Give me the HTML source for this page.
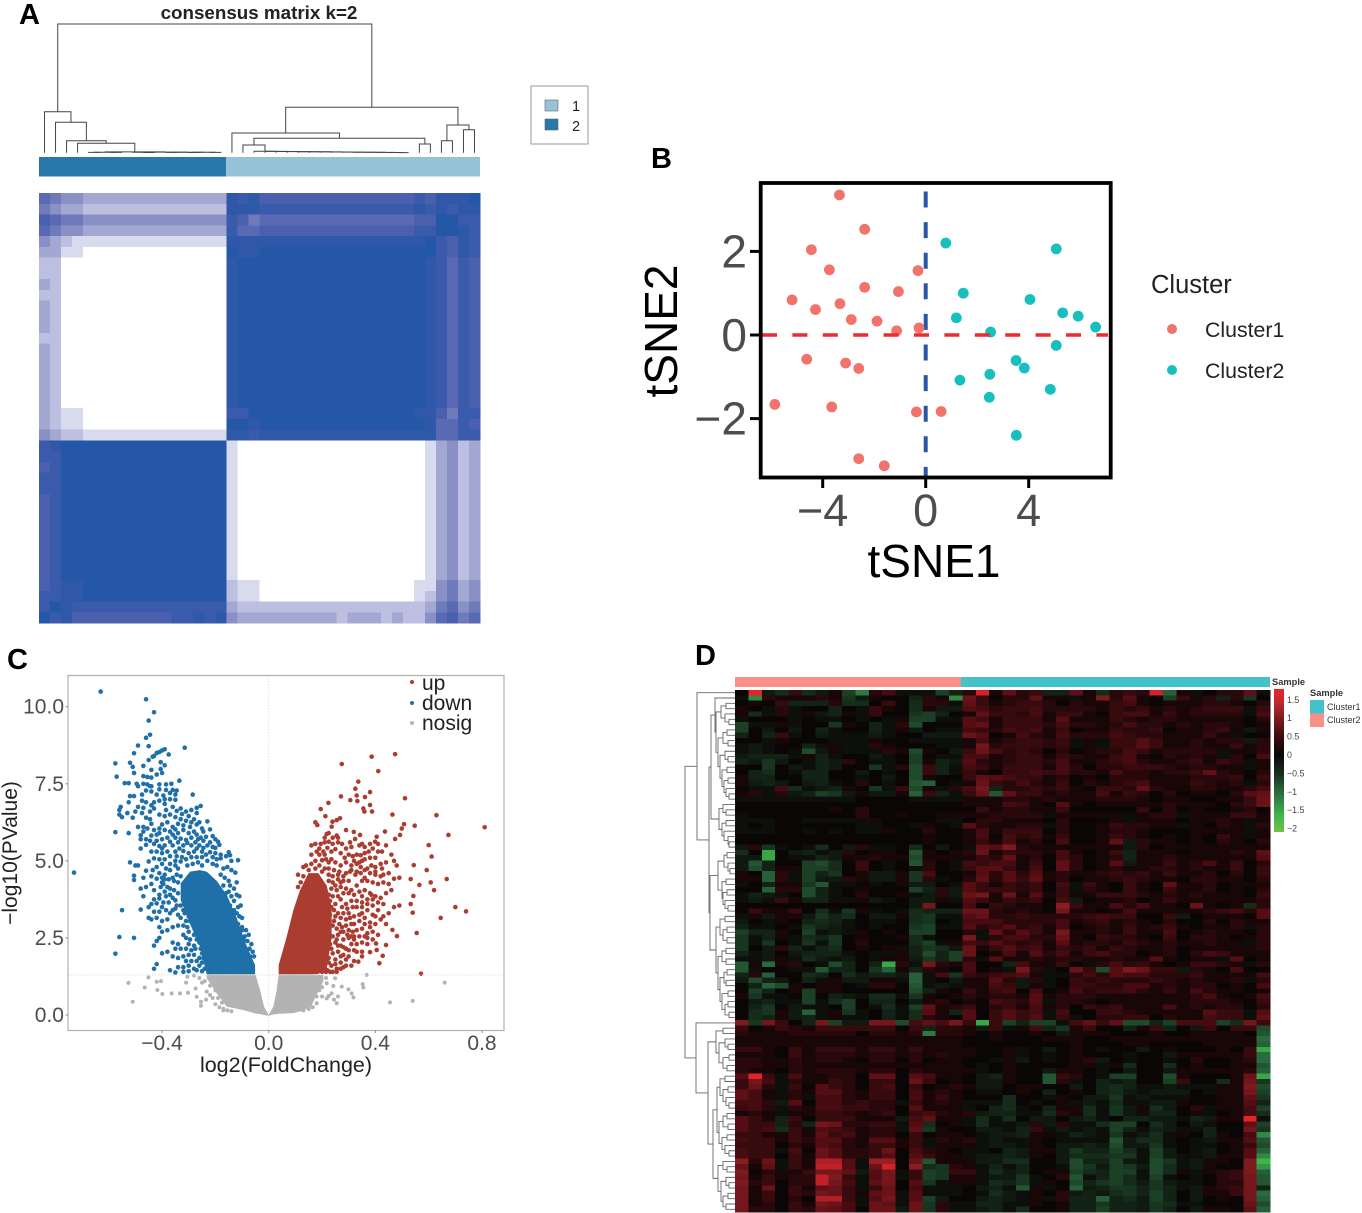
<!DOCTYPE html>
<html><head><meta charset="utf-8"><title>Cluster figure</title>
<style>
html,body{margin:0;padding:0;background:#fff;width:1362px;height:1213px;overflow:hidden}
svg{display:block;font-family:"Liberation Sans",sans-serif}
</style></head>
<body>
<svg id="fig" xmlns="http://www.w3.org/2000/svg" width="1362" height="1213" viewBox="0 0 1362 1213">
<text x="19" y="24" font-size="29" font-weight="bold">A</text>
<text x="651" y="168" font-size="29" font-weight="bold">B</text>
<text x="7" y="669" font-size="29" font-weight="bold">C</text>
<text x="695" y="665" font-size="29" font-weight="bold">D</text>
<text x="259" y="19" font-size="18.8" font-weight="bold" text-anchor="middle" fill="#222">consensus matrix k=2</text>
<g id="a-dend" fill="none" stroke="#444" stroke-width="1"></g>
<rect x="39" y="157" width="187" height="19.5" fill="#2878aa"/>
<rect x="226" y="157" width="254" height="19.5" fill="#97c3d8"/>
<g id="a-matrix" shape-rendering="crispEdges"></g>
<g>
<rect x="531" y="86" width="57" height="58" fill="#fff" stroke="#999" stroke-width="1"/>
<rect x="545" y="100" width="13" height="11" fill="#97c3d8" stroke="#666" stroke-width=".6"/>
<rect x="545" y="119" width="13" height="11" fill="#2878aa" stroke="#666" stroke-width=".6"/>
<text x="572" y="111" font-size="14.5" fill="#222">1</text>
<text x="572" y="131" font-size="14.5" fill="#222">2</text>
</g>
<g id="b-plot"></g>
<g id="c-plot"></g>
<g id="d-dend" fill="none" stroke="#666" stroke-width=".9"></g>
<rect x="735" y="677" width="226" height="10" fill="#f8908a"/>
<rect x="961" y="677" width="309" height="10" fill="#45c2c9"/>
<text x="1272" y="685" font-size="9.3" font-weight="bold" fill="#333">Sample</text>
<g id="d-heat" shape-rendering="crispEdges"></g>
<defs><linearGradient id="hg" x1="0" y1="0" x2="0" y2="1">
<stop offset="0" stop-color="#ee2229"/><stop offset=".09" stop-color="#c22a30"/><stop offset=".2" stop-color="#7f1d22"/><stop offset=".33" stop-color="#3e0c10"/><stop offset=".46" stop-color="#0a0606"/><stop offset=".6" stop-color="#18351f"/><stop offset=".72" stop-color="#2a6a3f"/><stop offset=".88" stop-color="#3db54a"/><stop offset="1" stop-color="#74c04a"/></linearGradient></defs>
<rect x="1274" y="689" width="10" height="143" fill="url(#hg)"/>
<g id="d-ticks" font-size="8.8" fill="#444"></g>
<text x="1310" y="696" font-size="9.3" font-weight="bold" fill="#333">Sample</text>
<rect x="1310" y="700" width="14" height="13.5" fill="#45c2c9"/>
<rect x="1310" y="713.5" width="14" height="13.5" fill="#f8908a"/>
<text x="1327" y="710" font-size="9" fill="#333">Cluster1</text>
<text x="1327" y="723" font-size="9" fill="#333">Cluster2</text>
</svg>
<script>
const NS='http://www.w3.org/2000/svg';
function mk(parent,tag,attrs,txt){const e=document.createElementNS(NS,tag);for(const k in attrs)e.setAttribute(k,attrs[k]);if(txt!==undefined)e.textContent=txt;parent.appendChild(e);return e;}

/* ---------- Panel A data ---------- */
const consensusRows=[
[6,5,4,4,3,3,3,3,3,3,3,3,3,3,3,3,3,9,8,9,7,7,7,7,7,7,7,7,7,7,7,7,7,7,8,7,9,9,9,10],
[5,4,3,3,2,2,2,2,2,2,2,2,2,2,2,2,2,9,9,9,8,8,8,8,8,8,8,8,8,8,8,8,8,8,9,8,9,8,9,9],
[7,6,5,5,4,4,4,4,4,4,4,4,4,4,4,4,4,8,7,5,6,6,6,6,6,6,6,6,6,6,6,6,6,6,7,7,10,10,8,8],
[6,5,4,4,3,3,3,3,3,3,3,3,3,3,3,3,3,8,6,6,7,7,7,7,7,7,7,7,7,7,7,7,7,7,8,8,10,10,9,8],
[4,3,2,1,1,1,1,1,1,1,1,1,1,1,1,1,1,9,9,9,9,9,9,9,9,9,9,9,9,9,9,9,9,9,9,10,8,7,9,8],
[3,3,1,1,0,0,0,0,0,0,0,0,0,0,0,0,0,10,9,9,10,10,10,10,10,10,10,10,10,10,10,10,10,10,10,10,8,7,9,8],
[2,2,0,0,0,0,0,0,0,0,0,0,0,0,0,0,0,9,10,10,10,10,10,10,10,10,10,10,10,10,10,10,10,10,10,9,8,6,8,7],
[2,2,0,0,0,0,0,0,0,0,0,0,0,0,0,0,0,9,10,10,10,10,10,10,10,10,10,10,10,10,10,10,10,10,10,9,8,6,8,7],
[3,2,0,0,0,0,0,0,0,0,0,0,0,0,0,0,0,9,10,10,10,10,10,10,10,10,10,10,10,10,10,10,10,10,10,9,8,6,8,7],
[2,2,0,0,0,0,0,0,0,0,0,0,0,0,0,0,0,9,10,10,10,10,10,10,10,10,10,10,10,10,10,10,10,10,10,9,8,6,8,7],
[3,2,0,0,0,0,0,0,0,0,0,0,0,0,0,0,0,9,10,10,10,10,10,10,10,10,10,10,10,10,10,10,10,10,10,9,8,6,8,7],
[3,2,0,0,0,0,0,0,0,0,0,0,0,0,0,0,0,9,10,10,10,10,10,10,10,10,10,10,10,10,10,10,10,10,10,9,8,6,8,7],
[3,2,0,0,0,0,0,0,0,0,0,0,0,0,0,0,0,9,10,10,10,10,10,10,10,10,10,10,10,10,10,10,10,10,10,9,8,6,8,7],
[2,2,0,0,0,0,0,0,0,0,0,0,0,0,0,0,0,9,10,10,10,10,10,10,10,10,10,10,10,10,10,10,10,10,10,9,8,6,8,7],
[3,2,0,0,0,0,0,0,0,0,0,0,0,0,0,0,0,9,10,10,10,10,10,10,10,10,10,10,10,10,10,10,10,10,10,9,8,6,8,7],
[3,2,0,0,0,0,0,0,0,0,0,0,0,0,0,0,0,9,10,10,10,10,10,10,10,10,10,10,10,10,10,10,10,10,10,9,8,6,8,7],
[3,2,0,0,0,0,0,0,0,0,0,0,0,0,0,0,0,9,10,10,10,10,10,10,10,10,10,10,10,10,10,10,10,10,10,9,8,6,8,7],
[3,2,0,0,0,0,0,0,0,0,0,0,0,0,0,0,0,9,10,10,10,10,10,10,10,10,10,10,10,10,10,10,10,10,10,9,8,6,8,7],
[3,2,0,0,0,0,0,0,0,0,0,0,0,0,0,0,0,9,10,10,10,10,10,10,10,10,10,10,10,10,10,10,10,10,10,9,8,6,8,7],
[3,2,0,0,0,0,0,0,0,0,0,0,0,0,0,0,0,9,10,10,10,10,10,10,10,10,10,10,10,10,10,10,10,10,10,9,8,6,8,7],
[3,2,1,1,0,0,0,0,0,0,0,0,0,0,0,0,0,8,8,10,10,10,10,10,10,10,10,10,10,10,10,10,10,10,9,9,7,5,8,8],
[3,2,1,1,0,0,0,0,0,0,0,0,0,0,0,0,0,10,10,9,10,10,10,10,10,10,10,10,10,10,10,10,10,10,10,9,6,6,8,7],
[4,3,2,2,1,1,1,1,1,1,1,1,1,1,1,1,1,9,9,8,9,9,9,9,9,9,9,9,9,9,9,9,9,9,9,9,6,6,8,8],
[8,9,10,10,10,10,10,10,10,10,10,10,10,10,10,10,10,1,0,0,0,0,0,0,0,0,0,0,0,0,0,0,0,0,0,1,3,4,2,3],
[8,8,10,10,10,10,10,10,10,10,10,10,10,10,10,10,10,1,0,0,0,0,0,0,0,0,0,0,0,0,0,0,0,0,0,1,3,4,2,3],
[7,8,10,10,10,10,10,10,10,10,10,10,10,10,10,10,10,1,0,0,0,0,0,0,0,0,0,0,0,0,0,0,0,0,0,1,3,4,2,3],
[8,8,10,10,10,10,10,10,10,10,10,10,10,10,10,10,10,1,0,0,0,0,0,0,0,0,0,0,0,0,0,0,0,0,0,1,3,4,2,3],
[8,8,10,10,10,10,10,10,10,10,10,10,10,10,10,10,10,1,0,0,0,0,0,0,0,0,0,0,0,0,0,0,0,0,0,1,3,4,2,3],
[7,8,10,10,10,10,10,10,10,10,10,10,10,10,10,10,10,1,0,0,0,0,0,0,0,0,0,0,0,0,0,0,0,0,0,1,3,4,2,3],
[7,8,10,10,10,10,10,10,10,10,10,10,10,10,10,10,10,1,0,0,0,0,0,0,0,0,0,0,0,0,0,0,0,0,0,1,3,4,2,3],
[7,8,10,10,10,10,10,10,10,10,10,10,10,10,10,10,10,1,0,0,0,0,0,0,0,0,0,0,0,0,0,0,0,0,0,1,3,4,2,3],
[7,8,10,10,10,10,10,10,10,10,10,10,10,10,10,10,10,1,0,0,0,0,0,0,0,0,0,0,0,0,0,0,0,0,0,1,3,4,2,3],
[7,8,10,10,10,10,10,10,10,10,10,10,10,10,10,10,10,1,0,0,0,0,0,0,0,0,0,0,0,0,0,0,0,0,0,1,3,4,2,3],
[7,8,10,10,10,10,10,10,10,10,10,10,10,10,10,10,10,1,0,0,0,0,0,0,0,0,0,0,0,0,0,0,0,0,0,1,3,4,2,3],
[7,8,10,10,10,10,10,10,10,10,10,10,10,10,10,10,10,1,0,0,0,0,0,0,0,0,0,0,0,0,0,0,0,0,0,1,3,4,2,3],
[7,8,10,10,10,10,10,10,10,10,10,10,10,10,10,10,10,1,0,0,0,0,0,0,0,0,0,0,0,0,0,0,0,0,0,1,3,4,2,3],
[7,8,9,9,10,10,10,10,10,10,10,10,10,10,10,10,10,2,1,1,0,0,0,0,0,0,0,0,0,0,0,0,0,0,1,1,4,5,3,4],
[8,8,9,9,10,10,10,10,10,10,10,10,10,10,10,10,10,2,1,1,0,0,0,0,0,0,0,0,0,0,0,0,0,0,1,2,4,5,3,4],
[8,10,9,8,8,8,8,8,8,8,8,8,8,8,8,8,8,3,2,2,2,2,2,2,2,2,2,2,2,2,2,2,2,2,2,3,5,6,4,5],
[10,8,9,7,7,7,7,7,7,7,7,7,8,8,9,8,9,4,3,3,3,3,3,3,3,3,3,2,3,3,3,2,3,2,2,4,6,7,5,6]
];
const consensusPalette=['#ffffff','#d8daed','#bcbfe0','#a3a8d3','#8a90c6','#6e7ab9','#5a69b3','#4a60ae','#3a5aab','#2f58a9','#2557a9'];
const consensusTree=[128.7,
 [41,0,[30.4,0,[12,0,[9.4,0,[0.8,[0.5,[0.3,0,0],[0.3,0,0]],[0.6,[0.4,0,[0.2,0,0]],[0.5,[0.3,0,0],[0.4,[0.2,0,0],[0.3,0,0]]]]]]]]],
 [45.4,[19.7,0,[14.4,[7.7,0,[1.4,0,[1.3,0,[1.2,0,[1.1,0,[1,0,[.9,0,[.8,0,[.7,0,[.6,0,[.5,0,[.4,0,[.3,0,[.2,0,[.1,0,0]]]]]]]]]]]]]]],[8.7,0,0]]],[27.7,[12,0,0],[23,0,0]]]
];

/* ---------- Panel B data ---------- */
const cluster1X=[-3.35,-2.37,-4.44,-3.74,-0.30,-2.37,-1.06,-5.19,-4.28,-3.33,-2.89,-1.89,-1.13,-0.26,-4.62,-3.11,-2.60,-5.86,-3.65,-0.36,0.60,-2.60,-1.61];
const cluster1Y=[3.35,2.53,2.04,1.56,1.54,1.14,1.04,0.84,0.61,0.75,0.37,0.33,0.10,0.17,-0.58,-0.67,-0.80,-1.66,-1.72,-1.84,-1.83,-2.96,-3.13];
const cluster2X=[0.78,5.07,1.46,4.05,5.32,5.92,6.60,1.19,2.52,5.07,3.51,3.83,1.33,2.49,2.47,4.84,3.52];
const cluster2Y=[2.20,2.06,1.00,0.85,0.53,0.45,0.19,0.41,0.07,-0.25,-0.61,-0.79,-1.08,-0.94,-1.49,-1.30,-2.40];
const tsneXTicks=[-4,0,4];
const tsneYTicks=[2,0,-2];

/* ---------- Panel C data ---------- */
const volcanoXTicks=[-0.4,0,0.4,0.8];
const volcanoYTicks=[0,2.5,5,7.5,10];
const downCoreX=[-0.33,-0.295,-0.258,-0.2325,-0.195,-0.1575,-0.12,-0.089,-0.051];
const downCoreTop=[4.27,4.65,4.7,4.65,4.35,3.9,3.15,2.38,1.62];
const downCoreBottom=[3.73,2.95,2.22,1.33,1.33,1.33,1.33,1.33,1.33];
const upCoreX=[0.0375,0.0675,0.0925,0.1175,0.149,0.186,0.2175,0.236];
const upCoreTop=[1.62,2.54,3.4,4.05,4.6,4.6,4.2,3.5];
const upCoreBottom=[1.33,1.33,1.33,1.33,1.33,1.33,1.5,2.5];
const nosigLeftX=[-0.2325,-0.195,-0.1575,-0.095,-0.05,-0.0325,-0.0175,0];
const nosigLeftTop=[1.33,1.33,1.33,1.33,1.33,0.81,0.27,0];
const nosigLeftBottom=[1.19,0.70,0.27,0.16,0.05,0.03,0,-0.03];
const nosigRightX=[0,0.0175,0.03,0.0375,0.0925,0.13,0.16,0.205];
const nosigRightTop=[0,0.27,0.81,1.33,1.33,1.33,1.33,1.3];
const nosigRightBottom=[-0.03,0.02,0.03,0.04,0.06,0.14,0.3,1.1];
const downPoints=[[-0.63,10.49],[-0.46,10.24],[-0.43,9.82],[-0.45,9.55],[-0.46,8.99],[-0.445,9.09],[-0.49,8.74],[-0.45,8.72],[-0.315,8.67],[-0.39,8.62],[-0.4,8.58],[-0.41,8.53],[-0.42,8.5],[-0.43,8.4],[-0.505,8.49],[-0.375,8.45],[-0.575,8.16],[-0.52,8.18],[-0.51,8.05],[-0.47,8.08],[-0.45,8.27],[-0.435,8.38],[-0.405,8.2],[-0.39,8.1],[-0.405,7.98],[-0.44,7.95],[-0.4,7.85],[-0.42,7.8],[-0.505,7.85],[-0.57,7.73],[-0.47,7.75],[-0.455,7.72],[-0.44,7.7],
[-0.54,7.52],[-0.525,7.52],[-0.495,7.5],[-0.49,7.42],[-0.47,7.5],[-0.455,7.48],[-0.44,7.42],[-0.41,7.48],[-0.385,7.48],[-0.365,7.5],[-0.335,7.6],[-0.36,7.3],[-0.345,7.28],[-0.46,7.28],[-0.44,7.25],[-0.445,7.42],[-0.41,7.32],[-0.37,7.2],[-0.285,7.15],[-0.52,7.1],[-0.505,7.1],[-0.35,7.15],[-0.39,7],[-0.37,7],[-0.35,6.98],[-0.525,6.9],[-0.475,6.95],[-0.46,6.9],[-0.43,6.9],[-0.41,6.95],[-0.39,6.85],[-0.255,6.78],[-0.27,6.72],[-0.53,6.55],[-0.555,6.75],[-0.49,6.75],[-0.44,6.8],[-0.43,6.7],[-0.47,6.72],[-0.33,6.7],[-0.31,6.6],[-0.29,6.65],[-0.27,6.55],[-0.56,6.65],[-0.56,6.5],[-0.55,6.42],[-0.51,6.4],[-0.475,6.55],[-0.46,6.4],[-0.445,6.35],[-0.41,6.5],[-0.39,6.45],[-0.37,6.5],[-0.35,6.42],[-0.33,6.35],[-0.31,6.3],[-0.28,6.35],[-0.26,6.25],
[-0.23,6.28],[-0.27,6.18],[-0.295,6.1],[-0.34,6.2],[-0.38,6.25],[-0.4,6.18],[-0.41,6.05],[-0.44,6.2],[-0.43,6.0],[-0.39,6],[-0.37,5.95],[-0.35,6.02],[-0.32,6.0],[-0.3,5.9],[-0.28,5.95],[-0.245,5.95],[-0.22,6.02],[-0.575,5.93],[-0.525,5.9],[-0.48,5.83],[-0.48,5.7],[-0.44,5.82],[-0.42,5.85],[-0.4,5.7],[-0.38,5.75],[-0.35,5.75],[-0.33,5.72],[-0.31,5.68],[-0.29,5.75],[-0.265,5.7],[-0.245,5.65],[-0.22,5.6],[-0.19,5.62],[-0.185,5.52],[-0.2,5.42],[-0.23,5.5],[-0.26,5.5],[-0.29,5.5],[-0.32,5.5],[-0.36,5.5],[-0.39,5.5],[-0.41,5.48],[-0.43,5.55],[-0.46,5.52],[-0.48,5.4],[-0.44,5.3],[-0.42,5.3],[-0.4,5.25],[-0.38,5.3],[-0.35,5.3],[-0.32,5.32],[-0.3,5.25],[-0.28,5.3],[-0.25,5.3],[-0.22,5.28],[-0.2,5.25],[-0.18,5.2],[-0.15,5.28],[-0.145,5.18],[-0.16,5.15],[-0.14,5.0],[-0.18,5.08],[-0.52,4.95],[-0.5,4.85],[-0.49,4.85],[-0.43,5.08],[-0.45,4.98],[-0.41,5.05],[-0.39,5.05],[-0.37,4.9],[-0.35,5.0],[-0.33,4.98],[-0.31,5.05],[-0.115,5.02],[-0.14,4.7],[-0.125,4.62],[-0.73,4.62],[-0.505,4.52],[-0.505,4.38],[-0.47,4.45],[-0.44,4.5],[-0.41,4.6],[-0.39,4.55],[-0.37,4.7],[-0.36,4.45],[-0.44,4.25],[-0.46,4.15],[-0.48,4.1],[-0.4,4.3],[-0.38,4.15],[-0.39,4.0],[-0.47,3.85],[-0.41,3.9],[-0.43,3.75],[-0.42,3.62],[-0.44,3.6],[-0.45,3.5],[-0.37,3.9],[-0.35,3.72],[-0.12,4.3],[-0.13,4.1],[-0.15,4.0],[-0.12,3.9],[-0.11,3.85],[-0.13,3.7],[-0.115,3.5],[-0.12,3.3],[-0.11,3.2],[-0.13,3.05],[-0.1,3.15],[-0.55,3.4],[-0.48,3.42],[-0.45,3.15],[-0.44,3.1],[-0.42,3.15],[-0.4,3.05],[-0.38,3.1],[-0.37,3.3],[-0.36,3.4],[-0.34,3.25],[-0.31,3.05],[-0.3,3.2],[-0.32,2.9],[-0.41,2.85],[-0.4,2.7],[-0.38,2.75],[-0.36,2.85],[-0.34,2.9],[-0.32,2.6],[-0.3,2.7],[-0.28,2.6],[-0.56,2.53],[-0.505,2.5],[-0.42,2.4],[-0.43,2.25],[-0.41,2.5],[-0.36,2.35],[-0.34,2.3],[-0.3,2.3],[-0.28,2.25],[-0.26,2.35],[-0.085,2.75],[-0.075,2.6],[-0.09,2.55],[-0.1,2.75],[-0.08,2.4],[-0.065,2.3],[-0.575,1.99],[-0.4,2.0],[-0.38,2.05],[-0.36,1.9],[-0.34,1.85],[-0.32,1.9],[-0.3,1.95],[-0.28,1.95],[-0.26,1.85],[-0.25,2.0],[-0.42,1.65],[-0.43,1.5],[-0.37,1.45],[-0.34,1.55],[-0.32,1.55],[-0.3,1.6],[-0.28,1.5],[-0.26,1.6],[-0.24,1.5],[-0.35,1.38],[-0.32,1.4],
[-0.305,4.85],[-0.285,4.9],[-0.265,4.95],[-0.25,4.85],[-0.23,5.0],[-0.21,4.9],[-0.195,4.85],[-0.17,4.75],[-0.155,4.8],[-0.18,4.55],[-0.165,4.45],[-0.15,4.35],[-0.17,4.2],[-0.145,4.2],[-0.16,3.95],[-0.14,3.85],[-0.145,3.55],[-0.13,3.4],[-0.105,3.55],[-0.115,2.95],[-0.1,2.85],[-0.11,2.65],[-0.095,2.45],[-0.072,2.15],[-0.06,2.05],[-0.055,1.9],[-0.07,1.9],
[-0.34,4.75],[-0.345,4.55],[-0.33,4.5],[-0.355,4.35],[-0.34,4.3],[-0.375,4.4],[-0.39,4.4],[-0.405,4.15],[-0.37,4.1],[-0.355,4.05],[-0.34,3.95],[-0.385,3.85],[-0.36,3.8],[-0.395,3.65],[-0.375,3.65],[-0.345,3.55],[-0.4,3.5],[-0.385,3.4],[-0.35,3.45],[-0.33,3.55],[-0.32,3.4],[-0.33,3.15],[-0.305,3.45],[-0.315,3.3],[-0.295,3.05],[-0.305,2.85],[-0.285,2.95],[-0.27,2.85],[-0.295,2.45],[-0.31,2.5],[-0.27,2.45],[-0.255,2.6],[-0.245,2.4],[-0.275,2.15],[-0.255,2.15],[-0.24,2.2],[-0.29,2.1],[-0.31,2.15],[-0.33,2.15],[-0.35,2.15],[-0.245,1.85],[-0.235,1.7],[-0.25,1.7],[-0.27,1.75],[-0.29,1.75],[-0.31,1.75],[-0.225,1.55],[-0.27,1.45],[-0.25,1.42],[-0.225,1.4],[-0.3,1.42],
[-0.49,6.1],[-0.47,6.1],[-0.455,6.05],[-0.47,5.95],[-0.41,5.9],[-0.36,5.85],[-0.34,5.9],[-0.27,5.85],[-0.255,5.75],[-0.235,5.78],[-0.21,5.8],[-0.2,5.7],[-0.46,5.7],[-0.445,5.65],[-0.42,5.65],[-0.37,5.62],[-0.34,5.6],[-0.305,5.58],[-0.275,5.6],[-0.21,5.45],[-0.245,5.42],[-0.27,5.4],[-0.335,5.4],[-0.4,5.4],[-0.37,5.15],[-0.345,5.15],[-0.325,5.12],[-0.29,5.12],[-0.27,5.12],[-0.25,5.12],[-0.235,5.2],[-0.21,5.12],[-0.195,5.05],[-0.4,4.9],[-0.385,4.75],[-0.42,4.8],[-0.35,4.85],[-0.435,4.7],[-0.46,4.68],[-0.4,4.45],[-0.42,4.42],[-0.43,4.05],[-0.41,3.78],[-0.395,4.25],[-0.41,3.35],[-0.43,3.35],
[-0.475,7.15],[-0.42,7.15],[-0.395,7.12],[-0.385,7.3],[-0.5,6.6],[-0.445,6.6],[-0.385,6.65],[-0.36,6.75],[-0.345,6.62],[-0.325,6.52],[-0.3,6.45],[-0.29,6.25],[-0.32,6.15],[-0.36,6.1],[-0.25,6.05]];
const upPoints=[[0.474,8.46],[0.386,8.38],[0.274,8.14],[0.411,7.91],[0.336,7.57],[0.325,7.34],[0.38,7.23],[0.33,7.12],[0.271,7.09],[0.306,6.97],[0.3325,6.94],[0.361,7.07],[0.511,7.03],[0.224,6.88],[0.195,6.68],[0.38,6.81],[0.355,6.7],[0.359,6.6],[0.3875,6.6],[0.2125,6.45],[0.464,6.5],[0.629,6.48],[0.2675,6.38],[0.255,6.32],[0.239,6.27],[0.175,6.25],[0.1825,6.16],[0.236,6.11],[0.5475,6.14],[0.81,6.09],[0.5075,6.19],[0.499,6.05],[0.436,5.95],[0.319,5.94],[0.674,5.84],[0.3425,5.84],[0.2175,5.87],[0.4925,5.84],[0.474,5.71],[0.405,5.78],[0.324,5.71],[0.399,5.62],[0.255,5.82],[0.6,5.51],[0.611,5.14],[0.5925,4.7],[0.544,4.86],[0.6675,4.41],[0.5325,4.41],[0.565,4.22],[0.6075,4.3],[0.62,4.05],[0.5425,3.86],[0.5325,3.6],[0.7,3.5],[0.74,3.36],[0.54,3.32],[0.645,3.15],[0.555,2.66],[0.464,2.76],[0.481,2.56],[0.415,1.68],[0.4275,1.92],[0.44,2.27],[0.4025,2.32],[0.38,2.04],[0.405,2.11],[0.336,1.73],[0.571,1.34],
[0.195,5.55],[0.21,5.6],[0.225,5.62],[0.24,5.55],[0.26,5.6],[0.275,5.55],[0.19,5.4],[0.205,5.3],[0.22,5.42],[0.235,5.3],[0.25,5.38],[0.27,5.25],[0.285,5.1],[0.3,5.2],[0.315,5.15],[0.33,5.2],[0.345,5.18],[0.36,5.25],[0.375,5.3],[0.39,5.4],[0.41,5.3],[0.425,5.3],[0.46,5.2],[0.47,5.0],[0.48,4.85],[0.44,4.95],[0.42,4.9],[0.4,4.8],[0.385,4.85],[0.37,4.75],[0.35,5.0],[0.33,4.9],[0.31,4.85],[0.29,4.95],[0.27,4.85],[0.25,4.95],[0.235,5.05],[0.215,5.05],[0.2,5.02],[0.175,5.0],[0.14,4.85],[0.16,4.9],[0.19,4.85],[0.225,4.75],[0.245,4.7],[0.265,4.65],[0.29,4.6],[0.305,4.65],[0.325,4.55],[0.345,4.6],[0.36,4.45],[0.4,4.55],[0.42,4.5],[0.45,4.6],[0.47,4.42],[0.49,4.45],[0.41,4.25],[0.43,4.3],[0.3,4.35],[0.28,4.35],[0.26,4.4],[0.25,4.2],[0.27,4.15],[0.29,4.1],[0.31,4.05],[0.33,4.2],[0.35,3.85],[0.37,3.75],[0.385,3.9],[0.4,3.85],[0.41,3.65],[0.42,3.8],[0.44,3.95],[0.46,4.05],[0.49,3.55],[0.47,3.5],[0.45,3.3],[0.43,3.6],[0.39,3.55],[0.37,3.4],[0.35,3.5],[0.33,3.5],[0.31,3.7],[0.29,3.6],[0.27,3.75],[0.25,3.6],[0.245,3.4],[0.26,3.3],[0.28,3.3],[0.3,3.3],[0.32,3.2],[0.34,3.25],[0.36,3.15],[0.38,3.0],[0.4,3.2],[0.42,3.1],[0.43,3.2],[0.44,2.95],[0.245,3.05],[0.265,2.95],[0.29,2.9],[0.31,2.95],[0.33,2.75],[0.35,2.8],[0.37,2.65],[0.39,2.7],[0.41,2.6],[0.36,2.55],[0.34,2.55],[0.32,2.45],[0.3,2.5],[0.28,2.7],[0.26,2.6],[0.24,2.55],[0.22,2.7],[0.23,2.3],[0.25,2.35],[0.27,2.25],[0.29,2.15],[0.31,2.3],[0.33,2.05],[0.35,2.05],[0.37,2.3],[0.26,2.05],[0.28,1.95],[0.3,1.9],[0.32,1.75],[0.25,1.8],[0.27,1.7],[0.29,1.6],[0.235,1.6],[0.255,1.5],[0.21,1.6],[0.22,1.45],[0.2,1.4],[0.24,1.4],[0.27,1.5],[0.225,1.85],[0.21,2.2],
[0.21,5.2],[0.19,5.2],[0.175,4.75],[0.15,4.7],[0.13,4.5],[0.12,4.3],[0.11,4.15],[0.21,4.75],[0.225,4.95],[0.2,4.65],[0.24,4.5],[0.225,4.55],[0.26,4.55],[0.28,4.5],[0.27,4.3],[0.24,4.3],[0.225,4.35],[0.235,4.1],[0.255,4.05],[0.28,3.95],[0.3,3.95],[0.32,3.9],[0.33,3.7],[0.315,3.5],[0.295,3.45],[0.275,3.5],[0.26,3.85],[0.24,3.85],[0.225,3.9],[0.23,3.7],[0.235,3.5],[0.23,3.25],[0.25,3.2],[0.27,3.15],[0.29,3.1],[0.305,3.15],[0.24,2.9],[0.255,2.8],[0.27,2.7],[0.275,2.85],[0.3,2.75],[0.315,2.7],[0.295,2.6],[0.255,2.45],[0.28,2.45],[0.31,2.55],[0.225,2.45],[0.235,2.15],[0.26,2.25],[0.28,2.2],[0.3,2.1],[0.32,2.1],[0.24,2.0],[0.27,1.9],[0.29,1.8],[0.31,1.6],[0.25,1.65],[0.225,1.7],[0.21,1.85],[0.195,1.65],[0.28,1.55],[0.255,1.4],[0.23,1.4],[0.215,1.4],
[0.32,5.0],[0.34,4.95],[0.36,5.05],[0.38,5.1],[0.4,5.1],[0.31,4.7],[0.33,4.65],[0.345,4.8],[0.36,4.7],[0.38,4.6],[0.4,4.65],[0.425,4.75],[0.35,4.35],[0.37,4.35],[0.39,4.3],[0.43,4.55],[0.45,4.25],[0.34,4.0],[0.36,4.05],[0.38,3.95],[0.35,3.65],[0.37,3.6],[0.39,3.75],[0.41,3.4],[0.39,3.25],[0.35,3.3],[0.34,3.05],[0.36,2.95],[0.38,2.85],[0.4,2.95],[0.32,2.95],[0.35,2.35],[0.33,2.3],[0.37,2.5],[0.39,2.45],[0.35,1.9],[0.32,2.55],
[0.11,4.55],[0.13,4.8],[0.16,5.2],[0.18,5.3],[0.175,5.55],[0.16,5.5],[0.21,5.75],[0.225,5.9],[0.24,5.75],[0.26,5.75],[0.29,5.4],[0.31,5.45],[0.34,5.5],[0.305,5.6],[0.35,5.55],[0.36,5.45],[0.38,5.55],[0.41,5.55],[0.44,5.5],[0.29,6.0]];
const nosigPoints=[[-0.526,1.04],[-0.51,0.43],[-0.465,0.89],[-0.451,1.22],[-0.4175,0.81],[-0.399,0.68],[-0.42,1.08],[-0.404,1.1],[-0.364,0.7],[-0.3325,0.7],[-0.3025,0.72],[-0.31,1.05],[-0.305,1.24],[-0.274,0.86],[-0.27,0.59],[-0.254,0.3],[-0.254,0.43],[-0.2325,0.76],[-0.26,1.2],[-0.25,1.05],[-0.24,1.1],[-0.22,0.95],[-0.28,1.28],[-0.235,0.5],[-0.22,0.65],[-0.2,0.35],[-0.21,0.55],[-0.185,0.25],[-0.17,0.2],[0.3675,1.3],[0.3525,1.0],[0.355,0.89],[0.66,1.05],[0.455,0.41],[0.54,0.46],[0.3175,0.57],[0.311,0.7],[0.299,0.83],[0.274,0.92],[0.249,1.19],[0.2175,1.03],[0.2425,0.94],[0.255,0.38],[0.236,0.7],[0.2175,0.54],[0.18,0.38],[0.155,0.32],[0.26,0.6],[0.245,0.5],[0.225,0.62],[0.2,0.6],[0.19,0.8],[0.215,1.2],[0.13,0.15],
[-0.2,0.8],[-0.19,0.55],[-0.175,0.4],[-0.205,1.0],[-0.17,0.15],[-0.14,0.12],[-0.22,1.2],[-0.155,0.15],[0.17,0.75],[0.18,0.6],[0.16,0.5],[0.175,1.0],[0.195,1.1],[0.2,0.9],[0.15,0.2],[0.165,0.25]];

/* ---------- Panel D data (tenths of a z-score, 98 rows x 40 samples) ---------- */
const colorbarTicks=[1.5,1,0.5,0,-0.5,-1,-1.5,-2];
const heatRows=[
[0,15,-2,-4,3,-4,-2,1,-6,-11,2,4,-1,-1,-1,-6,-3,2,14,1,6,2,3,-3,-3,6,1,-4,2,3,2,14,-9,1,-1,0,2,2,6,-1],
[-1,-12,2,1,1,1,2,1,-5,-2,1,0,0,-3,2,1,-12,7,3,0,2,2,6,1,1,-1,1,9,2,5,1,0,-6,3,1,2,-3,2,-5,0],
[0,1,0,3,-3,-3,-3,2,-4,-4,0,3,0,-4,2,2,-1,6,3,1,2,3,3,2,0,2,1,1,3,4,1,0,1,1,1,2,2,1,0,2],
[1,0,-1,2,-1,0,0,-3,0,-1,3,1,0,-4,1,-2,-2,5,4,2,3,3,4,2,2,2,2,1,3,2,3,1,2,1,2,3,3,3,-1,3],
[1,-4,-1,2,-1,1,-2,-3,1,-1,3,0,0,-5,-6,-3,0,1,6,3,3,2,4,1,3,3,1,0,3,4,4,1,3,1,2,2,2,2,-1,4],
[-1,0,0,0,-1,0,-1,-1,0,-1,0,-1,1,-6,-6,-1,-1,5,4,1,3,3,3,1,5,1,1,1,3,2,1,2,2,1,1,1,1,1,0,2],
[-6,-1,-1,1,-1,0,0,-5,1,0,-3,-1,2,-7,0,0,0,5,6,1,3,3,3,2,4,2,2,1,2,4,2,2,1,2,1,2,2,1,0,1],
[-6,0,-2,0,-2,0,-3,-1,0,0,-3,-1,1,-2,0,-1,-1,4,3,2,4,3,4,1,3,0,1,1,3,2,2,3,0,1,1,2,3,1,-2,1],
[-3,0,-3,3,-1,0,-2,-1,-1,-1,-2,-1,0,0,-2,-2,-2,7,5,0,1,4,2,1,4,2,2,2,4,3,2,2,1,1,1,3,1,-1,0,0],
[0,0,-1,1,0,0,0,-1,-1,-1,1,0,0,-1,-1,-1,-1,1,4,1,2,3,3,2,3,-1,1,-1,3,3,5,3,1,1,2,1,2,2,-2,2],
[-1,-2,-1,0,0,-3,-1,1,-1,-1,2,1,0,0,0,-1,-1,1,8,2,3,3,3,2,3,-1,1,-1,3,3,5,3,1,1,2,1,1,3,1,2],
[-1,-2,-1,0,-1,-7,-2,1,-1,-1,-1,2,1,-7,1,0,-2,3,7,4,2,3,2,0,2,0,1,2,2,4,3,1,2,2,2,2,-1,1,1,2],
[-2,-3,-3,-3,-1,1,-3,-1,0,0,-2,-1,0,-6,0,-1,-1,4,4,1,2,3,3,1,3,2,1,1,3,4,1,0,2,1,2,1,-1,2,0,4],
[-3,-2,-5,-2,0,-1,-3,-2,2,0,-1,-1,0,-6,1,-3,-2,5,2,1,2,3,3,2,4,1,1,2,3,4,2,1,1,2,3,1,3,2,-1,1],
[0,0,-5,0,-2,-1,-3,-2,0,0,-5,-1,2,-7,3,-3,-1,4,3,1,3,3,3,1,4,2,0,2,2,3,3,3,2,1,2,2,1,1,-1,1],
[0,-3,-4,0,-1,-3,-3,0,0,-2,0,-1,0,-7,3,-3,-1,3,1,0,3,3,4,3,4,2,2,1,4,2,2,1,2,2,3,6,2,1,0,2],
[1,-3,-3,0,0,-3,-3,0,0,-1,0,-2,0,-7,1,0,0,3,6,5,4,3,3,1,2,0,1,0,2,2,2,1,1,1,2,2,2,3,0,3],
[1,-2,-3,-2,0,-2,-3,-1,0,2,0,-1,0,-8,-9,0,-1,1,7,3,2,4,2,1,3,0,2,1,2,3,4,1,1,1,3,2,1,2,-1,2],
[0,-1,-1,4,-4,-1,-2,-3,1,0,-5,-1,3,-7,1,-1,2,4,8,-3,2,2,3,2,3,1,0,3,3,2,6,2,1,1,2,2,1,1,2,4],
[1,2,-1,2,-2,-3,-6,-5,-2,1,-2,-2,1,-9,3,-3,-1,3,7,-8,6,3,3,1,2,1,1,4,1,3,2,0,2,0,1,1,0,2,5,6],
[-1,-1,-1,-1,-1,-1,-1,-1,-1,0,0,0,0,-1,-1,-1,-1,1,1,1,2,2,1,2,1,1,1,2,2,2,1,0,1,1,0,0,1,1,3,7],
[0,0,0,0,0,0,0,0,0,0,0,0,0,0,0,0,0,1,1,1,4,3,1,0,5,1,0,1,1,1,1,1,2,1,1,1,0,2,3,7],
[0,0,0,0,0,0,0,1,0,2,0,0,0,0,0,0,0,0,3,1,2,2,1,1,3,0,0,0,0,0,3,0,2,0,1,0,0,1,2,0],
[-1,0,0,0,0,0,0,0,0,2,0,0,1,0,0,1,1,1,1,2,2,2,2,-1,1,1,1,1,1,-1,1,2,2,-1,1,1,1,3,3,1],
[-1,-1,-1,0,0,-1,-1,-1,-1,-1,1,0,0,0,0,-1,-1,0,2,2,1,1,1,0,2,0,0,0,1,-1,1,1,1,0,1,1,2,1,-1,1],
[-1,0,-1,0,0,0,0,0,0,-1,-1,0,0,-1,1,0,-1,5,2,1,1,2,2,-1,2,0,0,1,3,2,2,1,1,-1,1,0,2,1,-1,2],
[-1,-1,-1,0,0,-1,0,-1,0,-1,-1,1,0,0,2,0,0,1,4,1,3,3,3,0,2,0,0,1,2,2,1,0,0,0,1,1,1,1,-1,1],
[0,0,0,0,0,0,0,0,0,0,0,0,0,0,1,0,0,1,4,0,4,2,3,1,3,0,0,1,3,2,1,0,1,0,1,0,3,1,-1,1],
[0,0,0,0,0,0,0,0,0,0,0,0,0,0,1,0,0,1,3,1,4,1,2,0,4,0,0,1,6,-2,2,1,1,0,1,0,2,1,0,2],
[-2,2,-5,-1,0,-1,-4,0,-2,2,-1,-1,0,-4,0,-2,0,-1,6,5,9,2,1,1,1,1,1,1,1,-2,2,0,1,1,1,1,1,1,1,1],
[-4,0,-14,0,-2,-3,-1,-2,2,0,1,1,0,-8,1,0,1,2,7,1,3,2,2,1,4,1,0,1,3,-3,1,1,1,0,1,1,1,2,1,6],
[-2,-2,-14,0,-1,-1,-3,-2,1,1,2,1,1,-7,1,1,1,1,3,2,6,1,2,0,4,2,0,1,2,-3,1,1,2,1,1,1,1,1,1,5],
[-2,-8,-3,0,0,-6,-7,-4,0,3,0,-1,0,-8,2,0,-1,4,3,4,4,1,3,0,6,2,0,1,5,-2,1,1,3,1,2,4,1,3,0,2],
[-2,-7,-3,1,1,-6,-6,-4,0,3,0,-1,0,-1,2,0,-1,3,5,5,3,1,4,0,6,2,0,1,2,1,1,2,2,1,2,1,1,3,0,3],
[1,0,-9,2,-1,-6,-3,-5,0,1,-2,-2,1,-5,4,0,0,1,5,2,5,2,5,1,2,1,1,2,3,2,3,1,3,1,1,2,0,2,0,3],
[1,1,-9,2,-1,-6,-2,-2,2,1,-2,-2,1,-5,2,-1,0,2,6,2,5,3,6,1,2,0,1,1,2,3,2,1,1,0,2,2,1,1,0,2],
[-1,0,-3,1,1,-5,-8,-1,-1,0,-1,0,1,-2,-2,0,-1,5,3,1,3,2,3,0,4,-1,3,1,0,3,1,0,6,1,1,2,0,1,1,1],
[0,0,-9,2,2,-7,-3,-1,0,1,0,0,0,-6,-3,2,-2,5,3,3,3,2,3,0,3,-1,2,1,0,3,1,0,3,1,1,2,0,1,0,2],
[-1,-3,-2,-1,0,-7,-3,-1,0,2,0,0,1,-1,-2,2,-2,7,8,1,7,1,5,1,3,1,1,3,3,3,2,1,2,1,2,1,1,1,0,3],
[-1,-2,-1,3,1,-3,-3,-1,-1,1,-2,-1,0,-2,-2,1,-1,5,3,1,3,2,3,0,4,-2,0,1,1,2,0,1,3,1,1,1,1,1,1,2],
[0,0,0,0,0,0,0,0,0,0,0,0,0,-2,8,0,0,4,0,3,2,1,1,0,10,3,1,1,4,2,4,1,1,0,7,1,0,1,-4,2],
[0,3,1,1,3,0,-4,-1,-5,1,-1,0,-1,-4,-3,-3,-3,7,7,2,1,2,1,0,8,1,1,0,1,4,1,1,1,1,1,2,3,4,2,5],
[-1,1,-2,1,1,-2,-5,-3,-4,0,-2,-2,1,-4,-5,-1,-1,5,6,2,2,3,2,2,2,2,3,4,3,3,0,0,3,-2,0,1,1,1,0,5],
[-2,0,-1,1,0,-3,-4,-3,-1,0,-1,-1,0,-4,-5,0,-1,4,4,4,2,2,2,2,4,1,2,3,1,2,1,0,2,0,0,2,0,2,1,1],
[-3,-1,-1,0,-1,-5,-3,-2,-1,0,-1,0,0,-5,-6,-1,-1,5,2,3,5,2,3,1,4,0,1,2,1,3,1,2,3,1,0,1,1,2,-1,2],
[-6,-3,-3,1,0,-6,-1,-2,-1,1,0,1,0,-6,-6,0,0,2,-1,6,2,5,3,1,8,1,1,2,1,3,1,1,4,0,1,2,1,1,0,2],
[-5,-1,-3,1,-1,-4,-3,-5,0,1,0,0,1,-4,-1,0,0,8,-1,2,4,4,2,2,7,1,0,3,2,2,1,0,3,0,2,2,1,0,1,2],
[-5,-1,-5,0,-1,-5,-1,-5,0,2,0,0,0,-4,-6,-1,1,4,3,5,3,2,3,1,5,1,2,2,1,3,2,1,2,1,1,2,1,1,-1,2],
[-5,0,-2,2,-3,-1,-3,-4,0,1,0,1,-1,-3,-5,-4,-2,7,1,3,5,3,4,1,3,2,3,1,3,2,1,1,2,0,1,1,1,1,1,2],
[-3,-1,-2,0,-2,-3,-3,-3,-1,0,-1,-1,1,-3,-7,-3,-6,7,0,1,4,1,5,2,4,1,3,4,2,2,0,1,2,0,2,4,3,1,1,1],
[-1,-1,-2,1,-1,-4,-2,-1,-2,0,-1,1,1,-2,-5,-3,-6,2,-1,5,1,1,2,1,2,2,1,1,2,1,1,5,1,0,1,1,-1,5,0,1],
[-8,1,-10,1,2,0,-1,-7,-3,0,-3,-14,2,-1,8,2,1,4,0,0,-3,4,1,1,3,0,-1,2,4,2,3,1,0,1,3,3,2,1,-1,2],
[-8,-1,0,0,-1,-1,-8,-3,-3,0,-5,-9,1,-3,2,1,0,4,0,1,-1,8,2,-1,0,7,3,-7,5,9,7,3,3,-2,2,1,0,4,0,0],
[-3,2,-9,0,0,-4,-3,0,-4,-2,-3,-3,-2,-9,-1,4,-5,3,2,3,4,5,1,-1,-1,2,4,2,5,4,4,2,2,2,3,1,1,1,1,4],
[-2,-7,-3,-2,0,-3,-1,1,-2,-2,1,1,-1,-9,-1,0,-2,1,1,5,2,-2,2,-1,0,3,2,3,2,2,2,3,2,1,2,1,1,2,-1,2],
[0,-3,-9,-7,1,0,1,1,0,-1,2,2,0,-8,-1,-2,-1,1,1,4,3,-2,1,-1,0,3,3,2,2,4,4,1,2,1,2,2,0,1,0,4],
[0,-6,-3,0,1,-6,1,1,0,0,0,0,0,-7,-3,1,0,3,1,3,4,0,4,0,1,4,2,3,3,4,2,1,3,1,4,2,1,1,0,1],
[1,-5,-1,-1,0,-6,0,-3,-2,-1,-4,-4,-1,-5,1,0,1,2,1,2,2,1,5,1,2,2,2,1,1,1,1,1,1,1,2,4,1,0,1,4],
[0,-2,-3,-1,-1,-6,-1,-4,-6,0,-3,-3,0,-2,1,2,0,1,0,4,3,2,5,-1,2,2,1,0,1,1,1,1,1,1,2,2,2,1,0,3],
[0,-3,-5,0,-2,-1,-1,0,-6,0,-1,-4,-1,-6,6,1,2,3,0,2,3,1,4,1,2,0,3,2,3,1,1,1,4,1,2,1,2,2,0,2],
[0,-4,-5,1,-2,-9,-1,1,-5,-1,0,-3,-1,-4,5,1,-3,5,0,3,5,3,4,-1,4,0,0,3,3,2,1,1,1,1,1,5,3,3,-1,5],
[0,-4,-3,1,-2,-3,-1,1,-1,-1,0,-3,-1,-4,2,1,0,5,0,3,5,3,5,-1,3,-1,0,2,2,3,3,0,2,1,1,4,3,3,-1,6],
[9,-5,8,3,0,-3,8,-6,-2,-2,8,8,-7,4,6,4,8,3,-14,3,-6,-3,-6,-6,-1,4,6,3,6,-7,-7,-3,-6,4,4,4,-6,-4,8,3],
[3,0,1,3,2,1,3,3,3,3,3,3,0,3,-3,2,2,1,-2,3,-1,1,4,-3,-5,1,3,0,0,-3,1,3,-3,0,-2,3,0,3,3,-7],
[2,1,1,1,2,2,2,2,2,0,2,2,1,2,-11,2,2,1,0,1,0,0,1,0,-2,1,1,1,0,0,0,1,0,0,1,1,1,1,0,-8],
[1,1,1,1,1,1,1,1,1,1,1,1,1,1,1,1,1,0,0,1,0,0,0,1,1,1,0,0,1,1,1,1,1,1,1,1,1,1,1,-10],
[1,1,1,1,1,1,1,1,1,1,1,1,1,1,1,1,1,0,0,0,0,0,0,0,0,1,0,0,0,1,1,0,0,0,0,1,1,1,1,-9],
[3,3,1,0,3,1,3,3,3,1,3,3,1,3,1,1,1,1,0,0,1,-1,0,-2,0,1,0,-1,0,0,-2,0,1,0,0,0,1,0,3,-14],
[1,1,1,0,3,1,2,2,2,1,2,2,1,2,1,2,1,1,0,0,1,-1,0,-1,0,1,0,0,0,-1,0,0,-2,1,1,1,1,1,3,-10],
[2,2,1,1,2,1,2,2,1,0,2,2,0,2,0,1,1,0,0,-1,1,-2,0,-1,0,1,2,-2,0,-1,0,0,-1,0,2,0,0,1,2,-10],
[2,2,1,1,2,1,1,1,1,1,1,1,1,1,1,1,1,0,-1,0,1,0,0,0,0,1,1,-1,1,-4,0,0,-4,0,1,0,0,1,1,-8],
[2,1,1,0,2,1,2,2,2,1,2,2,0,2,1,1,1,1,-1,0,1,0,0,-2,1,1,0,-1,0,-2,0,0,-2,1,1,1,1,1,2,-9],
[5,15,3,-1,4,1,1,2,2,0,6,6,0,5,4,1,1,0,-2,-3,1,0,0,-8,3,2,0,-1,-6,-6,0,0,-7,1,0,0,0,1,7,-14],
[3,8,4,-1,2,1,1,3,2,0,3,3,0,7,3,0,1,0,-2,-2,1,0,0,-8,2,-1,0,-3,-2,-3,0,0,-6,3,0,0,-4,1,8,-5],
[3,7,2,-1,3,0,5,3,2,0,3,4,0,3,0,1,2,1,-2,-2,0,1,1,0,0,-2,0,-3,-4,-3,-1,-1,-2,-1,-1,-1,1,1,9,-7],
[6,4,1,-1,2,1,5,5,2,1,3,3,0,4,1,2,1,0,-1,-1,0,1,0,-3,0,1,0,-3,-4,-2,-1,-2,-2,-2,0,-1,1,1,8,-6],
[6,4,1,-1,2,-1,4,4,2,1,3,3,0,4,1,3,1,0,0,0,-4,0,0,-1,1,0,-2,-2,-5,-1,-2,-1,-1,-1,0,0,1,1,6,-5],
[4,4,2,-2,5,0,4,4,2,3,2,2,-1,3,1,2,1,-1,-1,-1,-4,0,-1,0,1,-1,-2,-1,-4,-1,-1,-2,-2,1,0,0,1,1,5,-3],
[3,4,2,-1,2,1,4,4,3,3,2,2,0,5,1,1,1,-1,0,-3,-4,-1,0,-3,1,1,-4,-1,-5,-2,1,-4,-2,0,2,-1,1,1,4,-6],
[1,2,1,-1,1,1,3,3,2,1,2,3,0,3,4,2,1,2,-2,-3,-3,-1,-1,-4,2,1,-4,-1,-5,-2,-1,-3,-3,0,1,-1,0,1,4,-4],
[5,3,1,-3,3,0,3,3,3,1,1,1,-2,4,6,1,1,-1,-4,-1,-4,0,-2,-2,0,-2,-3,-1,0,-3,-3,-2,-2,-1,-3,-2,1,1,15,-1],
[5,3,3,-3,2,-3,8,7,2,2,3,3,-1,5,-4,0,1,-1,-4,-1,-1,-2,2,-2,2,-1,-1,-4,-6,-6,0,-4,-2,0,-2,-1,0,0,6,-6],
[5,3,4,-4,3,1,5,4,3,1,2,2,-1,6,-5,1,0,0,-2,-2,-1,-3,3,-1,-2,-1,-2,-1,-6,-3,-1,-3,-2,-1,-1,-3,0,0,8,-5],
[3,3,1,1,3,1,6,3,4,1,2,2,0,3,0,1,1,0,-1,-2,-2,-3,1,1,-1,-3,-2,-1,-5,-1,-2,-4,-1,1,0,-3,1,0,4,-12],
[4,3,3,1,3,2,5,5,2,1,5,5,1,3,-1,2,1,2,-1,-2,-1,-1,1,0,-1,-1,-1,-1,-8,-2,-4,-4,-1,0,-1,-2,1,1,5,-8],
[3,3,3,0,2,1,5,4,2,1,3,3,1,3,-1,1,1,1,-1,-2,-2,-1,1,0,-2,-2,-3,-2,-7,-2,-2,-5,-1,0,-1,-1,0,1,3,-7],
[4,3,3,-1,4,0,7,5,2,2,3,7,0,4,2,1,0,-1,-1,0,-3,-2,1,1,-2,-5,-3,-3,-6,-4,-1,-6,-2,0,-1,-2,0,1,5,-9],
[4,3,3,0,3,1,7,5,2,2,3,5,0,5,3,1,1,-1,-2,-2,-3,-2,1,0,-2,-4,-4,-4,-5,-5,-1,-6,-2,-1,-1,-2,1,1,5,-12],
[10,2,7,-1,3,1,12,12,5,-1,11,11,0,7,-8,1,1,1,-2,-2,-4,-4,0,0,-2,-7,-3,-3,-6,-2,-1,-7,-5,-1,-2,1,1,0,9,-15],
[7,1,6,-1,3,1,13,13,5,-1,7,14,0,10,-4,-5,2,1,-1,-3,-1,-3,0,0,-1,-7,-5,-2,-6,-5,-2,-7,-4,-1,-2,1,0,0,9,-13],
[9,0,2,1,1,3,8,8,6,-2,5,8,-1,3,-6,-5,3,3,-1,-4,-2,-3,0,1,1,-6,-4,-3,-6,-6,-1,-7,-4,1,-1,1,2,3,9,-9],
[8,1,3,1,2,2,13,9,3,-1,5,8,-1,3,-6,-5,1,1,-1,-2,-2,-5,-1,0,2,-8,-1,-3,-6,-4,-1,-6,-1,0,-1,0,2,3,8,-8],
[9,2,3,0,2,2,13,8,4,-1,6,8,0,5,-5,-1,1,1,-1,-4,-3,-5,-1,1,0,-7,-3,-5,-6,-4,-2,-5,-2,-1,-1,0,2,2,8,-8],
[8,1,7,0,3,1,6,7,3,-1,3,7,0,4,-1,-1,-1,0,-2,-3,-1,-8,1,-1,0,-9,-2,-3,-5,-5,-3,-5,-3,-1,-2,1,2,3,8,-3],
[8,1,3,0,3,2,8,7,3,1,6,7,-1,5,-1,-1,-1,0,-1,-4,-2,-1,1,0,2,-2,-3,-2,-4,-5,-3,-6,-3,0,-2,1,1,3,8,-10],
[8,1,3,0,2,0,12,12,3,-1,5,8,-1,5,-6,-2,0,0,-2,-3,-2,-1,1,-1,2,-3,-3,-9,-3,-4,-2,-6,-3,0,-2,0,1,0,8,-9],
[8,1,2,0,3,1,8,7,4,-1,7,6,-1,7,-5,2,-1,-1,-3,-3,-1,-1,1,0,1,-3,-3,-5,-3,-3,-2,-5,-4,-1,-1,0,0,0,7,-7],
[8,2,2,0,3,2,7,6,4,0,7,7,-2,7,-5,2,-1,-1,-2,-3,-1,-4,0,0,1,-3,-3,-6,-3,-3,-2,-5,-3,0,-2,1,1,0,6,-9]
];

/* ---------- Drawing: Panel A ---------- */
const matLeft=39,matTop=193,matCellW=441/40,matCellH=430/40;
const matG=document.getElementById('a-matrix');
consensusRows.forEach((row,r)=>row.forEach((v,c)=>{
  const cell=mk(matG,'rect',{x:matLeft+c*matCellW,y:matTop+r*matCellH,width:matCellW+.3,height:matCellH+.3,fill:consensusPalette[Math.max(0,Math.min(10,Math.round(v)))]});
  
  
}));

function drawTree(tree,group,place,state){
  function walk(n){
    if(!Array.isArray(n)){const i=state.i++;return {p:state.leaf(i),h:0};}
    const a=walk(n[1]),b=walk(n[2]),h=n[0],p=(a.p+b.p)/2;
    const link=mk(group,'path',{d:place(a.p,a.h,b.p,b.h,h)});
    
    
    return {p,h};
  }
  walk(tree);
}
drawTree(consensusTree,document.getElementById('a-dend'),
 (p1,h1,p2,h2,h)=>{const b=152.7;return `M${p1} ${b-h1}V${b-h}H${p2}V${b-h2}`;},
 {i:0,leaf:i=>matLeft+matCellW*(i+.5)});

/* ---------- Drawing: Panel B ---------- */
const bG=document.getElementById('b-plot');
const tx=v=>925.7+25.75*v, ty=v=>335-41.8*v;
const bV=mk(bG,'line',{x1:tx(0),x2:tx(0),y1:191.5,y2:477,stroke:'#2a55a8','stroke-width':4,'stroke-dasharray':'16 14.6'});


function tsneDots(xs,ys,col,name){xs.forEach((x,i)=>{
  const d=mk(bG,'circle',{cx:tx(x),cy:ty(ys[i]),r:5.4,fill:col});
  
  
});}
tsneDots(cluster1X,cluster1Y,'#f0736c','cluster1-point');
tsneDots(cluster2X,cluster2Y,'#17bfbf','cluster2-point');
const bH=mk(bG,'line',{x1:762,x2:1108,y1:ty(0),y2:ty(0),stroke:'#ee2a2e','stroke-width':3.5,'stroke-dasharray':'15 15.4'});


const bBox=mk(bG,'rect',{x:760.7,y:183,width:350,height:294.5,fill:'none',stroke:'#000','stroke-width':3.8});


tsneXTicks.forEach(t=>{
  const l=mk(bG,'line',{x1:tx(t),x2:tx(t),y1:479,y2:488,stroke:'#000','stroke-width':3});
  
  
  const s=mk(bG,'text',{x:tx(t)-(t<0?0:0),y:526,'font-size':45,fill:'#4d4d4d','text-anchor':'middle'},String(t).replace('-','\u2212'));
  
  
});
tsneYTicks.forEach(t=>{
  const l=mk(bG,'line',{x1:750,x2:759,y1:ty(t),y2:ty(t),stroke:'#000','stroke-width':3});
  
  
  const s=mk(bG,'text',{x:747,y:ty(t)+16,'font-size':46,fill:'#4d4d4d','text-anchor':'end'},String(t).replace('-','\u2212'));
  
  
});
const bxt=mk(bG,'text',{x:934,y:577,'font-size':46,'text-anchor':'middle',fill:'#000'},'tSNE1');


const byt=mk(bG,'text',{x:0,y:0,transform:'translate(677,331) rotate(-90)','font-size':46,'text-anchor':'middle',fill:'#000'},'tSNE2');


const blt=mk(bG,'text',{x:1151,y:293,'font-size':25.5,fill:'#222'},'Cluster');


[['Cluster1','#f0736c',329],['Cluster2','#17bfbf',370]].forEach(e=>{
  const d=mk(bG,'circle',{cx:1172,cy:e[2],r:5,fill:e[1]});
  
  
  const t=mk(bG,'text',{x:1205,y:e[2]+8,'font-size':21.3,fill:'#222'},e[0]);
  
  
});

/* ---------- Drawing: Panel C ---------- */
const cG=document.getElementById('c-plot');
const vx=v=>268.7+266.67*v, vy=v=>1015-30.83*v;
function coreArea(xs,top,bot,col,name){
  let d='M'+xs.map((x,i)=>vx(x)+' '+vy(top[i])).join('L');
  for(let i=xs.length-1;i>=0;i--)d+='L'+vx(xs[i])+' '+vy(bot[i]);
  const a=mk(cG,'path',{d:d+'Z',fill:col});
  
  
}
coreArea(nosigLeftX,nosigLeftTop,nosigLeftBottom,'#b3b3b3','nosig-density-left');
coreArea(nosigRightX,nosigRightTop,nosigRightBottom,'#b3b3b3','nosig-density-right');
nosigPoints.forEach(p=>{
  const d=mk(cG,'circle',{cx:vx(p[0]),cy:vy(p[1]),r:2,fill:'#b3b3b3'});
  
  
});
coreArea(downCoreX,downCoreTop,downCoreBottom,'#1f6fa8','down-density');
coreArea(upCoreX,upCoreTop,upCoreBottom,'#ab3c30','up-density');
downPoints.forEach(p=>{
  const d=mk(cG,'circle',{cx:vx(p[0]),cy:vy(p[1]),r:2.3,fill:'#1f6fa8'});
  
  
});
upPoints.forEach(p=>{
  const d=mk(cG,'circle',{cx:vx(p[0]),cy:vy(p[1]),r:2.3,fill:'#ab3c30'});
  
  
});
const vh=mk(cG,'line',{x1:68,x2:504,y1:vy(1.3),y2:vy(1.3),stroke:'#ddd','stroke-width':.8,'stroke-dasharray':'1.5 1.5'});


const vv=mk(cG,'line',{x1:vx(0),x2:vx(0),y1:675,y2:1030,stroke:'#ddd','stroke-width':.8,'stroke-dasharray':'1.5 1.5'});


const cBox=mk(cG,'rect',{x:68,y:675.5,width:436,height:355,fill:'none',stroke:'#b0b0b0','stroke-width':1.2});


volcanoXTicks.forEach(t=>{
  const l=mk(cG,'line',{x1:vx(t),x2:vx(t),y1:1030.5,y2:1033,stroke:'#888','stroke-width':1});
  
  
  const s=mk(cG,'text',{x:vx(t),y:1050,'font-size':21,fill:'#4d4d4d','text-anchor':'middle'},t.toFixed(1).replace('-','\u2212'));
  
  
});
volcanoYTicks.forEach(t=>{
  const l=mk(cG,'line',{x1:65.5,x2:68,y1:vy(t),y2:vy(t),stroke:'#888','stroke-width':1});
  
  
  const s=mk(cG,'text',{x:64,y:vy(t)+7,'font-size':21,fill:'#4d4d4d','text-anchor':'end'},t.toFixed(1));
  
  
});
const cxt=mk(cG,'text',{x:286,y:1072,'font-size':21.5,'text-anchor':'middle',fill:'#222'},'log2(FoldChange)');


const cyt=mk(cG,'text',{x:0,y:0,transform:'translate(17,853) rotate(-90)','font-size':21,'text-anchor':'middle',fill:'#222'},'\u2212log10(PValue)');


[['up','#ab3c30',682,690],['down','#1f6fa8',703,710],['nosig','#b3b3b3',723,730]].forEach(e=>{
  const d=mk(cG,'circle',{cx:412,cy:e[2],r:2,fill:e[1]});
  
  
  const t=mk(cG,'text',{x:422,y:e[3],'font-size':21,fill:'#222'},e[0]);
  
  
});

/* ---------- Drawing: Panel D ---------- */
const heatG=document.getElementById('d-heat');
const hLeft=735,hTop=690,hW=535/40,hH=522/98;
const heatStops=[[-20,[116,192,74]],[-15,[61,181,74]],[-10,[42,106,63]],[-5,[24,53,31]],[0,[10,6,6]],[5,[85,12,18]],[10,[135,30,36]],[15,[230,34,41]]];
function heatColor(v){
  v=Math.max(-20,Math.min(15,v));
  for(let i=0;i<heatStops.length-1;i++){
    const a=heatStops[i],b=heatStops[i+1];
    if(v<=b[0]){const t=(v-a[0])/(b[0]-a[0]);return 'rgb('+a[1].map((c,k)=>Math.round(c+(b[1][k]-c)*t)).join(',')+')';}
  }
  return 'rgb(230,34,41)';
}
heatRows.forEach((row,r)=>row.forEach((v,c)=>{
  const cell=mk(heatG,'rect',{x:hLeft+c*hW,y:hTop+r*hH,width:hW+.4,height:hH+.4,fill:heatColor(v)});
  
  
}));
const rowTree=[50,
 [38,0,[26,
   [24,
    [20,0,[19,[14,[9,0,0],[10,0,[6,0,0]]],[17,[12,[8,0,0],[7,0,0]],[15,[10,0,[7,0,0]],[13,[8,0,0],[11,[7,0,0],[9,0,[6,0,0]]]]]]]],
    [16,[12,0,[9,0,0]],[13,[9,0,0],[11,0,[7,0,[6,0,0]]]]]],
   [25,
    [17,[11,[8,0,0],[7,0,[5,0,0]]],[13,[9,0,0],[12,[8,0,0],[10,0,[7,0,0]]]]],
    [19,[15,[10,0,0],[12,[8,0,0],[8,0,0]]],[17,[13,[9,0,0],[9,0,0]],[15,[11,[8,0,0],[9,0,0]],[13,[7,0,0],[10,[7,0,0],[6,0,0]]]]]]]]],
 [39,0,[27,
   [19,[12,0,0],[16,[10,0,[7,0,0]],[12,[6,0,0],[8,0,0]]]],
   [22,
    [18,[15,[10,0,0],[12,[7,0,0],[9,0,[6,0,0]]]],[16,[12,[8,0,0],[7,0,0]],[13,[8,0,0],[10,0,[6,0,0]]]]],
    [17,[12,0,[8,0,0]],[14,[9,0,[6,0,0]],[12,[7,0,0],[9,0,0]]]]]]]
];
drawTree(rowTree,document.getElementById('d-dend'),
 (p1,h1,p2,h2,h)=>{const b=735;return `M${b-h1} ${p1}H${b-h}V${p2}H${b-h2}`;},
 {i:0,leaf:i=>hTop+hH*(i+.5)});
const cbG=document.getElementById('d-ticks');
colorbarTicks.forEach(t=>{
  const s=mk(cbG,'text',{x:1287,y:755-36.8*t+3,},String(t).replace('-','\u2212'));
  
  
});
</script>
</body></html>
